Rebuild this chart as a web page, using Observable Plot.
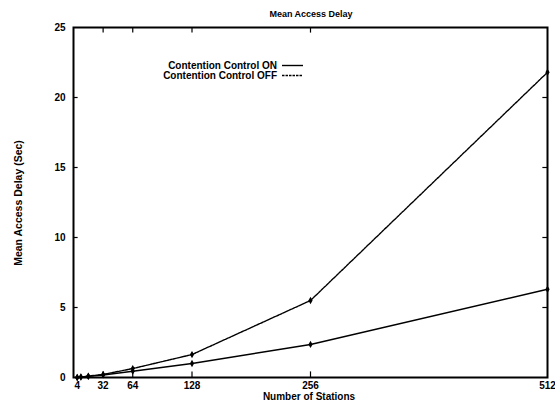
<!DOCTYPE html>
<html>
<head>
<meta charset="utf-8">
<script src="https://cdn.jsdelivr.net/npm/d3@7"></script>
<script src="https://cdn.jsdelivr.net/npm/@observablehq/plot@0.6"></script>
<style>
  body { margin: 0; background: #fff; }
  #chart { position: relative; width: 555px; height: 404px; }
</style>
</head>
<body>
<div id="chart"></div>
<script>
const stations = [4, 8, 16, 32, 64, 128, 256, 512];
const delayOn  = [0.0, 0.03, 0.08, 0.18, 0.45, 1.0, 2.36, 6.3];
const delayOff = [0.0, 0.04, 0.1, 0.22, 0.64, 1.64, 5.5, 21.8];
const xTicks = [4, 32, 64, 128, 256, 512];
const yTicks = [0, 5, 10, 15, 20, 25];
const seriesNames = ["Contention Control ON", "Contention Control OFF"];

const data = [];
stations.forEach((s, i) => {
  data.push({x: s, y: delayOn[i], series: seriesNames[0]});
  data.push({x: s, y: delayOff[i], series: seriesNames[1]});
});
const on = data.filter(d => d.series === seriesNames[0]);
const off = data.filter(d => d.series === seriesNames[1]);
const font = "'Liberation Sans', Arial, sans-serif";

const plot = Plot.plot({
  width: 555,
  height: 404,
  marginLeft: 73,
  marginRight: 8,
  marginTop: 27,
  marginBottom: 27,
  style: {fontFamily: font, fontSize: "10px", fontWeight: "bold", background: "#fff", color: "#000"},
  x: {domain: [0, 512], ticks: xTicks},
  y: {domain: [0, 25], ticks: yTicks},
  marks: [
    Plot.axisX({ticks: xTicks, tickSize: 0, tickPadding: 4, label: null, fontWeight: "bold"}),
    Plot.axisY({ticks: yTicks, tickSize: 0, tickPadding: 8, label: null, fontWeight: "bold"}),
    // inward ticks
    Plot.ruleX(xTicks.slice(1, -1), {y1: 0, y2: 0.4, stroke: "#000", strokeWidth: 1.2}),
    Plot.ruleX(xTicks.slice(1, -1), {y1: 25, y2: 24.6, stroke: "#000", strokeWidth: 1.2}),
    Plot.ruleY(yTicks.slice(1, -1), {x1: 0, x2: 5, stroke: "#000", strokeWidth: 1.2}),
    Plot.ruleY(yTicks.slice(1, -1), {x1: 512, x2: 507, stroke: "#000", strokeWidth: 1.2}),
    Plot.line(on, {x: "x", y: "y", stroke: "#000", strokeWidth: 1.4}),
    Plot.line(off, {x: "x", y: "y", stroke: "#000", strokeWidth: 1.4, strokeDasharray: "2.5,1"}),
    Plot.dot(on, {x: "x", y: "y", symbol: "diamond", r: 2.2, fill: "#000"}),
    Plot.dot(off, {x: "x", y: "y", symbol: "diamond", r: 2.2, fill: "#000"}),
    Plot.frame({stroke: "#000", strokeWidth: 2})
  ]
});

const wrap = document.getElementById("chart");
wrap.appendChild(plot);
const svg = d3.select(plot);

svg.append("text").attr("x", 311).attr("y", 17).attr("text-anchor", "middle")
  .attr("font-family", font).attr("font-weight", "bold").attr("font-size", 9).text("Mean Access Delay");
svg.append("text").attr("x", 309).attr("y", 400).attr("text-anchor", "middle")
  .attr("font-family", font).attr("font-weight", "bold").attr("font-size", 10).text("Number of Stations");
svg.append("text").attr("transform", "translate(22,203) rotate(-90)").attr("text-anchor", "middle")
  .attr("font-family", font).attr("font-weight", "bold").attr("font-size", 10.5).text("Mean Access Delay (Sec)");

// legend
const leg = svg.append("g").attr("font-family", font).attr("font-weight", "bold").attr("font-size", 10);
seriesNames.forEach((name, i) => {
  const y = 69 + i * 10;
  leg.append("text").attr("x", 277).attr("y", y).attr("text-anchor", "end").text(name);
  leg.append("line").attr("x1", 282).attr("x2", 303).attr("y1", y - 3.5).attr("y2", y - 3.5)
    .attr("stroke", "#000").attr("stroke-width", 1.4).attr("stroke-dasharray", i ? "2.5,1" : null);
});
</script>
</body>
</html>
